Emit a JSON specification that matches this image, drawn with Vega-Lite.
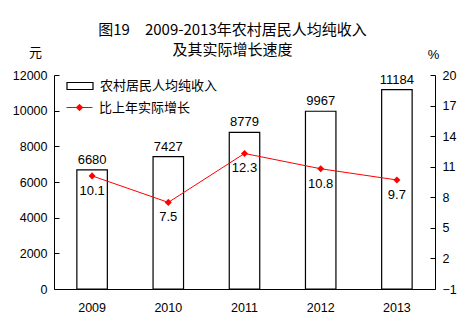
{
  "$schema": "https://vega.github.io/schema/vega-lite/v6.json",
  "autosize": {"type": "none"},
  "width": 381,
  "height": 214,
  "padding": {"left": 54, "top": 75, "right": 32, "bottom": 37},
  "background": "white",
  "title": {
    "text": ["图19　2009-2013年农村居民人均纯收入", "及其实际增长速度"],
    "font": "Noto Sans CJK SC",
    "fontSize": 15,
    "fontWeight": "normal",
    "color": "#000",
    "lineHeight": 20,
    "anchor": "middle",
    "dx": -12,
    "offset": -12
  },
  "config": {
    "view": {"stroke": null},
    "font": "Liberation Sans",
    "axis": {"labelFont": "Liberation Sans", "labelFontSize": 12.5, "labelColor": "#000", "domainColor": "#000", "tickColor": "#000", "grid": false, "labelOverlap": false}
  },
  "data": {
    "values": [
      {"year": "2009", "income": 6680, "growth": 10.1},
      {"year": "2010", "income": 7427, "growth": 7.5},
      {"year": "2011", "income": 8779, "growth": 12.3},
      {"year": "2012", "income": 9967, "growth": 10.8},
      {"year": "2013", "income": 11184, "growth": 9.7}
    ]
  },
  "encoding": {
    "x": {
      "field": "year", "type": "ordinal",
      "scale": {"paddingInner": 0.6, "paddingOuter": 0.3},
      "axis": {"title": null, "labelAngle": 0, "ticks": false, "labelPadding": 12, "domainColor": "#000"}
    }
  },
  "layer": [
    {
      "encoding": {
        "y": {
          "field": "income", "type": "quantitative",
          "scale": {"domain": [0, 12000]},
          "axis": {"values": [0, 2000, 4000, 6000, 8000, 10000, 12000], "format": "d", "tickSize": -5, "labelPadding": 12, "labelOverlap": false, "title": "元", "titleAngle": 0, "titleFont": "Noto Sans CJK SC", "titleFontSize": 13, "titleFontWeight": "normal", "titleX": -19, "titleY": -16, "titleColor": "#000"}
        }
      },
      "layer": [
        {
          "mark": {"type": "bar", "stroke": "#000", "strokeWidth": 1.2},
          "encoding": {
            "fill": {
              "datum": "农村居民人均纯收入",
              "scale": {"range": ["white"]},
              "legend": {"title": null, "orient": "none", "legendX": 12, "legendY": -3, "symbolType": "M-1,-0.27H1V0.27H-1Z", "symbolSize": 676, "symbolStrokeColor": "#000", "symbolStrokeWidth": 1.2, "labelFont": "Noto Sans CJK SC", "labelFontSize": 13, "labelColor": "#000", "labelOffset": 6}
            }
          }
        },
        {
          "mark": {"type": "text", "dy": -10, "fontSize": 13, "font": "Liberation Sans", "color": "#000"},
          "encoding": {
            "text": {"field": "income", "type": "nominal"}
          }
        }
      ]
    },
    {
      "encoding": {
        "y": {
          "field": "growth", "type": "quantitative",
          "scale": {"domain": [-1, 20]},
          "axis": {"orient": "right", "values": [-1, 2, 5, 8, 11, 14, 17, 20], "tickSize": -5, "labelPadding": 12, "labelOverlap": false, "title": "%", "titleAngle": 0, "titleFontSize": 13, "titleFontWeight": "normal", "titleX": -2, "titleY": -14, "titleColor": "#000"}
        }
      },
      "layer": [
        {
          "mark": {"type": "line", "color": "red", "strokeWidth": 1},
          "encoding": {
            "color": {
              "datum": "比上年实际增长",
              "scale": {"range": ["red"]},
              "legend": {"title": null, "orient": "none", "legendX": 12, "legendY": 19, "symbolType": "M-1,0H1M0,-0.25L0.25,0L0,0.25L-0.25,0Z", "symbolSize": 676, "symbolStrokeColor": "red", "symbolFillColor": "red", "symbolStrokeWidth": 1, "labelFont": "Noto Sans CJK SC", "labelFontSize": 13, "labelColor": "#000", "labelOffset": 6}
            }
          }
        },
        {
          "mark": {"type": "point", "shape": "diamond", "filled": true, "color": "red", "size": 50, "opacity": 1},
          "encoding": {}
        },
        {
          "mark": {"type": "text", "dy": 15, "fontSize": 13, "font": "Liberation Sans", "color": "#000"},
          "encoding": {
            "text": {"field": "growth", "type": "quantitative", "format": ".1f"}
          }
        }
      ]
    }
  ],
  "resolve": {"scale": {"y": "independent"}}
}
